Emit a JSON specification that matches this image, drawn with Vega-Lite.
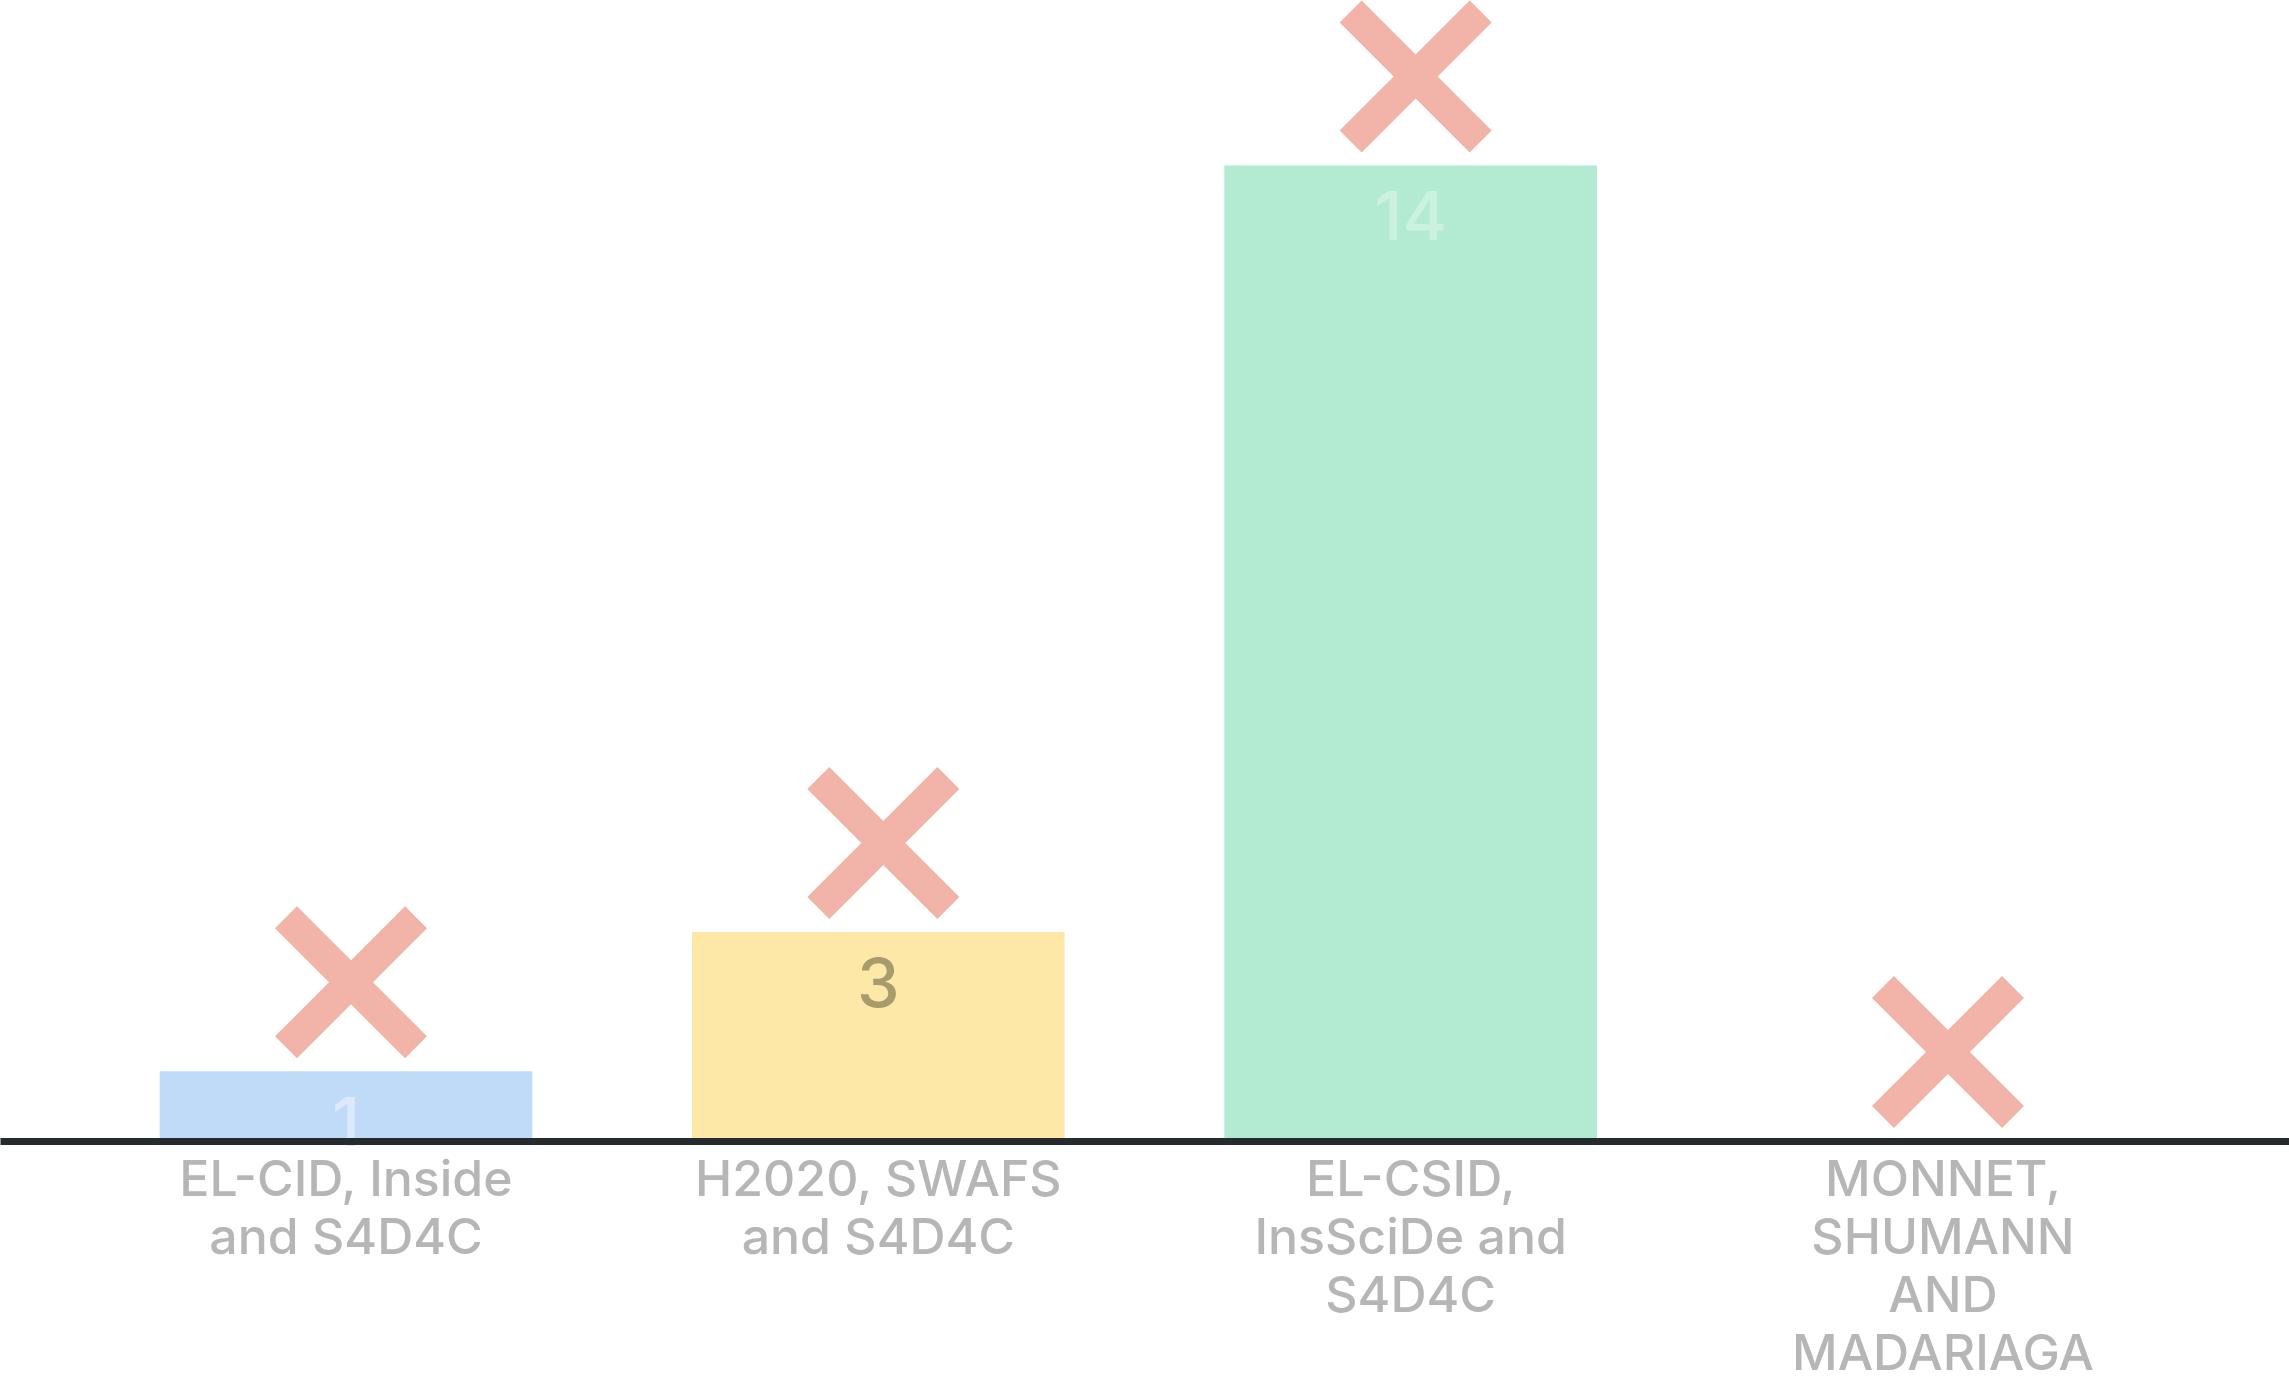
{
  "$schema": "https://vega.github.io/schema/vega-lite/v6.json",
  "width": 2289,
  "height": 1140,
  "padding": 0,
  "background": "#ffffff",
  "config": {"view": {"stroke": null}},
  "data": {
    "values": [
      {"project": "EL-CID, Inside and S4D4C", "count": 1},
      {"project": "H2020, SWAFS and S4D4C", "count": 3},
      {"project": "EL-CSID, InsSciDe and S4D4C", "count": 14},
      {"project": "MONNET, SHUMANN AND MADARIAGA", "count": 0}
    ]
  },
  "encoding": {
    "x": {
      "field": "project",
      "type": "nominal",
      "sort": null,
      "scale": {"paddingInner": 0.3, "paddingOuter": 0.3},
      "axis": {
        "title": null,
        "labelAngle": 0,
        "ticks": false,
        "domainColor": "#262b30",
        "domainWidth": 7,
        "zindex": 1,
        "labelFont": "Inter",
        "labelFontWeight": 500,
        "labelFontSize": 50,
        "labelColor": "#b6b6b6",
        "labelLineHeight": 58,
        "labelPadding": 14,
        "labelBaseline": "top",
        "labelLimit": 0,
        "labelExpr": "datum.value == 'EL-CID, Inside and S4D4C' ? ['EL-CID, Inside', 'and S4D4C'] : datum.value == 'H2020, SWAFS and S4D4C' ? ['H2020, SWAFS', 'and S4D4C'] : datum.value == 'EL-CSID, InsSciDe and S4D4C' ? ['EL-CSID,', 'InsSciDe and', 'S4D4C'] : ['MONNET,', 'SHUMANN', 'AND', 'MADARIAGA']"
      }
    },
    "y": {
      "field": "count",
      "type": "quantitative",
      "scale": {"domain": [0, 16.36], "nice": false, "zero": true},
      "axis": null
    }
  },
  "layer": [
    {
      "mark": {"type": "bar", "cornerRadius": 0},
      "encoding": {
        "color": {
          "field": "project",
          "type": "nominal",
          "sort": null,
          "legend": null,
          "scale": {
            "domain": ["EL-CID, Inside and S4D4C", "H2020, SWAFS and S4D4C", "EL-CSID, InsSciDe and S4D4C", "MONNET, SHUMANN AND MADARIAGA"],
            "range": ["#c0dbf8", "#fde8a8", "#b3ead2", "#f2b4a8"]
          }
        }
      }
    },
    {
      "transform": [{"filter": "datum.count > 0"}],
      "mark": {"type": "text", "font": "Inter", "fontWeight": 500, "fontSize": 68, "baseline": "middle", "align": "center", "dy": 55},
      "encoding": {
        "text": {"field": "count", "type": "quantitative"},
        "color": {
          "field": "project",
          "type": "nominal",
          "sort": null,
          "legend": null,
          "scale": {
            "domain": ["EL-CID, Inside and S4D4C", "H2020, SWAFS and S4D4C", "EL-CSID, InsSciDe and S4D4C", "MONNET, SHUMANN AND MADARIAGA"],
            "range": ["#dbe9fb", "#a89c6c", "#cbf1df", "#ffffff"]
          }
        }
      }
    },
    {
      "mark": {
        "type": "point",
        "shape": "M0.711,1L0,0.289L-0.711,1L-1,0.711L-0.289,0L-1,-0.711L-0.711,-1L0,-0.289L0.711,-1L1,-0.711L0.289,0L1,0.711Z",
        "size": 23104,
        "filled": true,
        "opacity": 1,
        "color": "#f2b4a8",
        "strokeWidth": 0,
        "xOffset": 5,
        "yOffset": -89
      },
      "encoding": {}
    }
  ],
  "resolve": {"scale": {"color": "independent"}}
}
